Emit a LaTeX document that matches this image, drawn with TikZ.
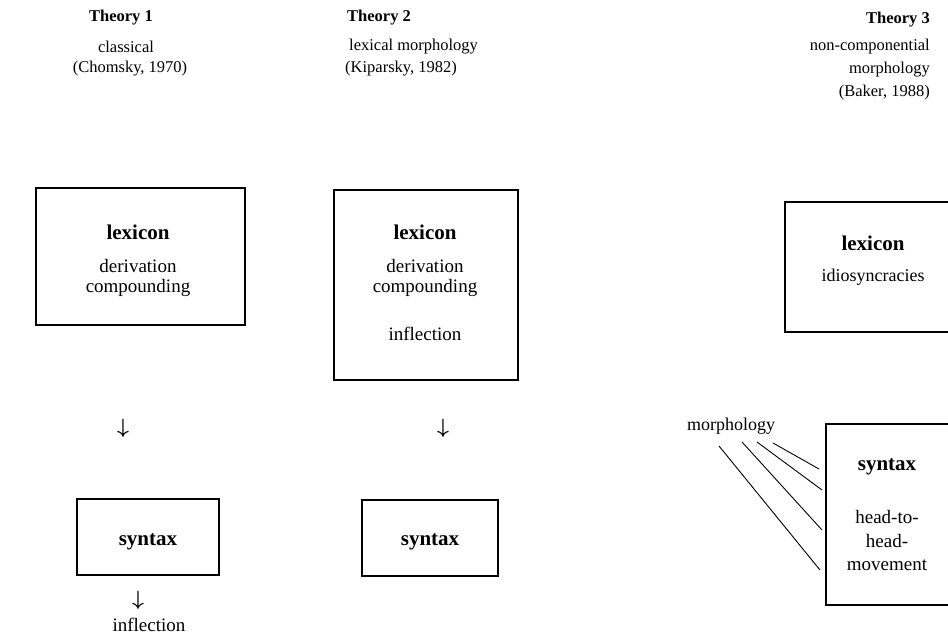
\documentclass[tikz,border=0pt]{standalone}
\usepackage{fontspec}
\setmainfont{Liberation Serif}
\begin{document}
\begin{tikzpicture}[x=1pt,y=-1pt,
  headtxt/.style={inner sep=0pt,font=\fontsize{16.5}{20}\selectfont\bfseries},
  captxt/.style={inner sep=0pt,font=\fontsize{16.5}{20}\selectfont},
  txt/.style={inner sep=0pt,font=\fontsize{19}{22}\selectfont},
  stxt/.style={inner sep=0pt,font=\fontsize{18}{21}\selectfont},
  btxt/.style={inner sep=0pt,font=\fontsize{21}{24}\selectfont\bfseries},
  arr/.style={inner sep=0pt,font=\fontsize{20}{24}\selectfont\boldmath},
  boxed/.style={draw,line width=1.1pt}]
\useasboundingbox (0,0) rectangle (948,635);
\clip (0,0) rectangle (948,635);
% headings
\node[headtxt] (t1) at (121,18) {Theory 1};
\node[headtxt,anchor=west] (t2) at (347,18) {Theory 2};
\node[headtxt,anchor=east] (t3) at (930,20) {Theory 3};
\node[captxt] (c1a) at (126,47) {classical};
\node[captxt] (c1b) at (130,69) {(Chomsky, 1970)};
\node[captxt,anchor=west] (c2a) at (349,47) {lexical morphology};
\node[captxt,anchor=west] (c2b) at (345,69) {(Kiparsky, 1982)};
\node[captxt,anchor=east] (c3a) at (930,47) {non-componential};
\node[captxt,anchor=east] (c3b) at (930,70) {morphology};
\node[captxt,anchor=east] (c3c) at (930,93) {(Baker, 1988)};
% boxes
\draw[boxed] (36,188) rectangle (245,325);
\node[btxt] (lex1) at (138,232) {lexicon};
\node[txt] (d1) at (138,266) {derivation};
\node[txt] (cp1) at (138,288) {compounding};
\draw[boxed] (334,190) rectangle (518,380);
\node[btxt] (lex2) at (425,232) {lexicon};
\node[txt] (d2) at (425,266) {derivation};
\node[txt] (cp2) at (425,288) {compounding};
\node[txt] (in2) at (425,334) {inflection};
\draw[boxed] (785,202) rectangle (965,332);
\node[btxt] (lex3) at (873,243) {lexicon};
\node[stxt] (id3) at (873,277) {idiosyncracies};
% arrows
\node[arr] (a1) at (123,428) {$\downarrow$};
\node[arr] (a2) at (443,428) {$\downarrow$};
% syntax boxes
\draw[boxed] (77,499) rectangle (219,575);
\node[btxt] (s1) at (148,542) {syntax};
\node[arr] (a3) at (138,600) {$\downarrow$};
\node[txt] (inf1) at (149,625) {inflection};
\draw[boxed] (362,500) rectangle (498,576);
\node[btxt] (s2) at (430,542) {syntax};
\draw[boxed] (826,424) rectangle (965,605);
\node[btxt] (s3) at (887,467) {syntax};
\node[txt] (h1) at (887,517) {head-to-};
\node[txt] (h2) at (887,541) {head-};
\node[txt] (h3) at (887,565) {movement};
\node[stxt] (morph) at (731,426) {morphology};
% lines
\coordinate (m1) at (773,443); \coordinate (e1) at (819,469);
\coordinate (m2) at (757,442); \coordinate (e2) at (822,490);
\coordinate (m3) at (742,442); \coordinate (e3) at (822,530);
\coordinate (m4) at (719,446); \coordinate (e4) at (820,570);
\draw[line width=0.9pt] (m1) -- (e1) (m2) -- (e2) (m3) -- (e3) (m4) -- (e4);
\end{tikzpicture}
\end{document}
